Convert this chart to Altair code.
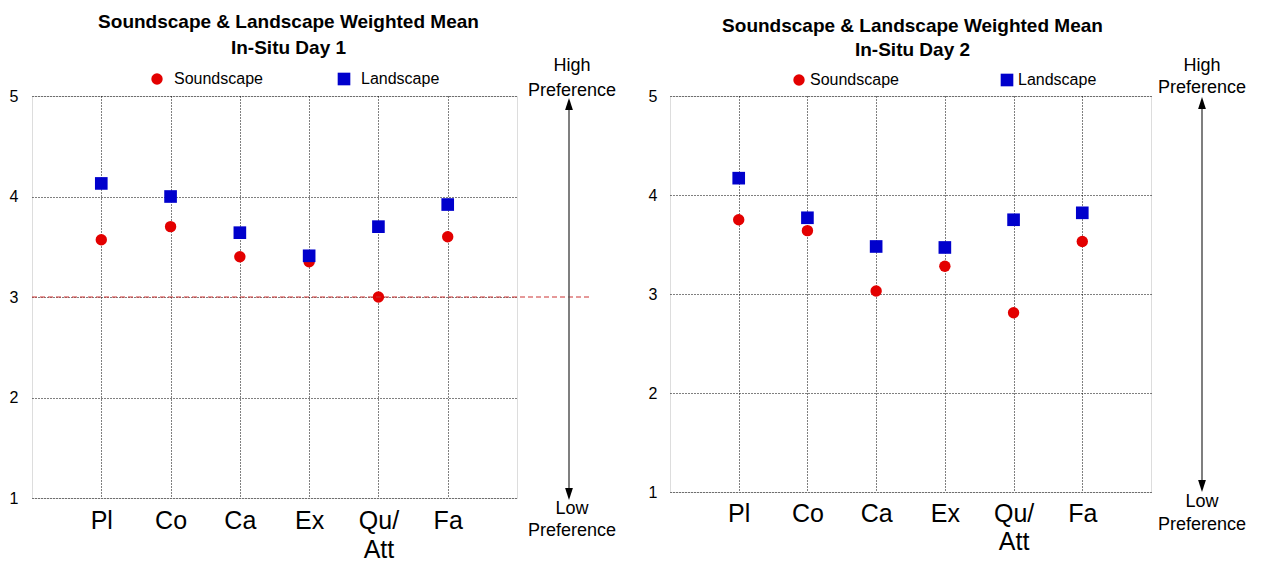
import altair as alt
import pandas as pd

# ---------------- data ----------------
categories = ["Pl", "Co", "Ca", "Ex", "Qu/Att", "Fa"]
series_names = ["Soundscape", "Landscape"]
day1_soundscape = [3.57, 3.70, 3.40, 3.35, 3.00, 3.60]
day1_landscape = [4.13, 4.00, 3.64, 3.41, 3.70, 3.92]
day2_soundscape = [3.75, 3.64, 3.03, 3.28, 2.81, 3.53]
day2_landscape = [4.17, 3.77, 3.48, 3.47, 3.75, 3.82]
y_ticks = [1, 2, 3, 4, 5]
title_line1 = "Soundscape & Landscape Weighted Mean"
subtitles = ["In-Situ Day 1", "In-Situ Day 2"]
high_label = ["High", "Preference"]
low_label = ["Low", "Preference"]
neutral_level = [3]

RED = "#e30000"
BLUE = "#0000cc"
FONT = "Liberation Sans"


def panel(sound, land, subtitle, W, H, c, ref_levels=None):
    df = pd.DataFrame({
        "category": categories * 2,
        "series": [series_names[0]] * len(categories) + [series_names[1]] * len(categories),
        "value": sound + land,
    })
    x = alt.X(
        "category:N", sort=categories,
        scale=alt.Scale(type="point", padding=1),
        axis=alt.Axis(
            title=None, labelAngle=0, labelFontSize=25, labelFont=FONT, labelColor="black",
            labelExpr="datum.label == 'Qu/Att' ? ['Qu/', 'Att'] : datum.label",
            labelLineHeight=c["xlh"], labelPadding=c["xpad"], labelOverlap=False,
            grid=True, gridDash=[1, 2], gridColor="#000000", gridWidth=1,
            ticks=False, domain=False,
        ),
    )
    y = alt.Y(
        "value:Q",
        scale=alt.Scale(domain=[1, 5], nice=False, zero=False),
        axis=alt.Axis(
            title=None, values=y_ticks, format="d", labelFontSize=16, labelFont=FONT,
            labelColor="black", labelPadding=c["ypad"],
            grid=True, gridDash=[1, 2], gridColor="#000000", gridWidth=1,
            ticks=False, domain=False,
        ),
    )
    legend = alt.Legend(
        orient="none", legendX=c["legX"], legendY=c["legY"], direction="horizontal",
        title=None, labelFontSize=16, labelFont=FONT, labelColor="black",
        symbolSize=115, labelOffset=c["labOff"], columnPadding=c["colPad"],
        padding=0, symbolStrokeWidth=0, symbolOpacity=1,
    )
    points = alt.Chart(df).mark_point(filled=True, opacity=1, strokeWidth=0).encode(
        x=x, y=y,
        color=alt.Color("series:N", sort=series_names,
                        scale=alt.Scale(domain=series_names, range=[RED, BLUE]), legend=legend),
        shape=alt.Shape("series:N", sort=series_names,
                        scale=alt.Scale(domain=series_names, range=["circle", "square"]), legend=legend),
        size=alt.Size("series:N", sort=series_names,
                      scale=alt.Scale(domain=series_names, range=[130, 160]), legend=None),
    )
    one = pd.DataFrame({"k": [0]})
    layers = [points]
    if ref_levels:
        ref = alt.Chart(pd.DataFrame({"level": ref_levels})).mark_rule(
            color="#cc3333", strokeDash=[5, 3], strokeWidth=1
        ).encode(y=alt.Y("level:Q", title=None), x=alt.value(0), x2=alt.value(W + 72))
        layers.append(ref)
    ax = W + c["arrow_dx"]
    top_tip, bot_tip = c["tips"]
    layers.append(alt.Chart(one).mark_rule(color="#555555", strokeWidth=1.5).encode(
        x=alt.value(ax), y=alt.value(top_tip + 6), y2=alt.value(bot_tip - 6)))
    layers.append(alt.Chart(one).mark_point(
        shape="M0,-1L0.65,1L-0.65,1Z", filled=True, color="black", opacity=1, size=144, strokeWidth=0
    ).encode(x=alt.value(ax), y=alt.value(top_tip + 6)))
    layers.append(alt.Chart(one).mark_point(
        shape="M0,1L0.65,-1L-0.65,-1Z", filled=True, color="black", opacity=1, size=144, strokeWidth=0
    ).encode(x=alt.value(ax), y=alt.value(bot_tip - 6)))
    layers.append(alt.Chart(one).mark_text(
        text=[title_line1, subtitle], fontSize=19, fontWeight="bold", font=FONT, color="black",
        lineHeight=c["tlh"], align="center", baseline="middle"
    ).encode(x=alt.value(W / 2 + c["tdx"]), y=alt.value(c["ty"])))
    layers.append(alt.Chart(one).mark_text(
        text=high_label, fontSize=18, font=FONT, color="black",
        lineHeight=c["hlh"], align="center", baseline="middle"
    ).encode(x=alt.value(ax + c["tx"]), y=alt.value(c["hy"])))
    layers.append(alt.Chart(one).mark_text(
        text=low_label, fontSize=18, font=FONT, color="black",
        lineHeight=c["llh"], align="center", baseline="middle"
    ).encode(x=alt.value(ax + c["tx"]), y=alt.value(H + c["ly"])))
    return alt.layer(*layers).properties(width=W, height=H)


left_cfg = dict(xlh=29, xpad=10, ypad=14, legX=117, legY=-25, labOff=9, colPad=73,
                arrow_dx=52, tips=(2, 404), tdx=14, ty=-74, tlh=26, hy=-30, hlh=25,
                ly=11, llh=22, tx=3)
right_cfg = dict(xlh=28, xpad=9, ypad=13, legX=121, legY=-24, labOff=3, colPad=100,
                 arrow_dx=51, tips=(1, 396), tdx=2, ty=-70, tlh=24, hy=-30, hlh=22,
                 ly=10, llh=23, tx=0)

left = panel(day1_soundscape, day1_landscape, subtitles[0], 485, 402, left_cfg, neutral_level)
right = panel(day2_soundscape, day2_landscape, subtitles[1], 481, 396, right_cfg)

chart = alt.hconcat(left, right, spacing=153, bounds="flush").resolve_scale(
    color="independent", shape="independent", size="independent"
).properties(
    padding={"left": 0, "top": 4, "right": 0, "bottom": 0}
).configure_view(stroke="black", strokeWidth=1).configure(font=FONT)

chart.save("out.html", embed_options={"renderer": "svg", "actions": False})
